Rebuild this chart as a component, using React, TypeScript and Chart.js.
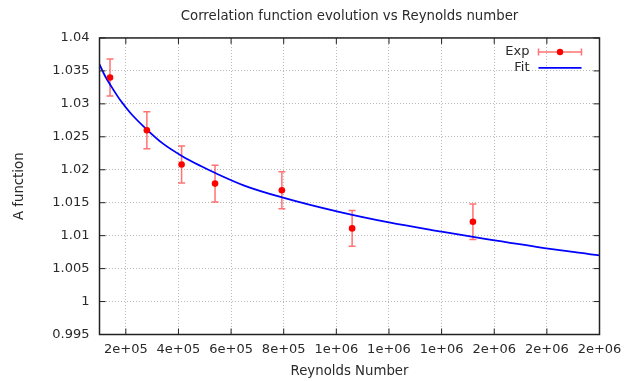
import { useEffect, useRef } from 'react';
import { Chart, registerables } from 'chart.js';

Chart.register(...registerables);

// Experimental data
const reynolds = [1.4e5, 2.8e5, 4.12e5, 5.39e5, 7.93e5, 1.06e6, 1.519e6];
const aValues = [1.034, 1.026, 1.0208, 1.0179, 1.0169, 1.0111, 1.0121];
const aErrors = [0.0028, 0.0028, 0.0028, 0.0028, 0.0028, 0.0027, 0.0027];

// Fit curve
const fitReynolds = [1.0e5, 1.2e5, 1.47e5, 1.8e5, 2.2e5, 2.8e5, 3.4e5, 4.13e5, 4.83e5, 5.4e5, 6.5e5, 7.94e5, 1.01e6, 1.2e6, 1.4e6, 1.52e6, 1.76e6, 2.0e6];
const fitValues = [1.036, 1.0343, 1.0325, 1.0305, 1.0285, 1.0261, 1.024, 1.0221, 1.0206, 1.0195, 1.0176, 1.0158, 1.0136, 1.012, 1.0106, 1.0098, 1.0083, 1.007];

// Ticks
const xTickValues = [2e5, 4e5, 6e5, 8e5, 1e6, 1.2e6, 1.4e6, 1.6e6, 1.8e6, 2e6];
const xTickLabels = ['2e+05', '4e+05', '6e+05', '8e+05', '1e+06', '1e+06', '1e+06', '2e+06', '2e+06', '2e+06'];
const yTickValues = [0.995, 1, 1.005, 1.01, 1.015, 1.02, 1.025, 1.03, 1.035, 1.04];
const yTickLabels = ['0.995', '1', '1.005', '1.01', '1.015', '1.02', '1.025', '1.03', '1.035', '1.04'];

const titleText = 'Correlation function evolution vs Reynolds number';
const xTitle = 'Reynolds Number';
const yTitle = 'A function';
const legendExp = 'Exp';
const legendFit = 'Fit';

const FONT = '"DejaVu Sans", "Liberation Sans", Arial, sans-serif';
const TEXT_COLOR = '#2a2a2a';
const ERR_COLOR = 'rgba(255, 40, 40, 0.65)';
const PT_COLOR = '#ff0000';
const FIT_COLOR = '#0000ff';
const FRAME_COLOR = '#222222';
const GRID_COLOR = '#b8b8b8';

const gnuplotPlugin = {
  id: 'gnuplotDecor',
  beforeDatasetsDraw(chart: any) {
    const { ctx, scales } = chart;
    const xs = scales.x;
    const ys = scales.y;
    ctx.save();
    ctx.strokeStyle = ERR_COLOR;
    ctx.lineWidth = 1.5;
    reynolds.forEach((r, i) => {
      const px = xs.getPixelForValue(r);
      const top = ys.getPixelForValue(aValues[i] + aErrors[i]);
      const bot = ys.getPixelForValue(aValues[i] - aErrors[i]);
      ctx.beginPath();
      ctx.moveTo(px, top);
      ctx.lineTo(px, bot);
      ctx.moveTo(px - 3.5, top);
      ctx.lineTo(px + 3.5, top);
      ctx.moveTo(px - 3.5, bot);
      ctx.lineTo(px + 3.5, bot);
      ctx.stroke();
    });
    ctx.restore();
  },
  afterDraw(chart: any) {
    const { ctx, chartArea, scales } = chart;
    const { left, right, top, bottom } = chartArea;
    const xs = scales.x;
    const ys = scales.y;
    ctx.save();
    ctx.strokeStyle = FRAME_COLOR;
    ctx.lineWidth = 1.5;
    ctx.strokeRect(left, top, right - left, bottom - top);
    const tl = 6;
    ctx.beginPath();
    xTickValues.forEach((v) => {
      const px = xs.getPixelForValue(v);
      ctx.moveTo(px, bottom);
      ctx.lineTo(px, bottom - tl);
      ctx.moveTo(px, top);
      ctx.lineTo(px, top + tl);
    });
    yTickValues.forEach((v) => {
      const py = ys.getPixelForValue(v);
      ctx.moveTo(left, py);
      ctx.lineTo(left + tl, py);
      ctx.moveTo(right, py);
      ctx.lineTo(right - tl, py);
    });
    ctx.lineWidth = 1;
    ctx.stroke();

    // legend
    const textRight = right - 70;
    const sx0 = right - 61;
    const sx1 = right - 18;
    const y1 = top + 14;
    const y2 = top + 30;
    ctx.font = `13px ${FONT}`;
    ctx.fillStyle = TEXT_COLOR;
    ctx.textAlign = 'right';
    ctx.textBaseline = 'middle';
    ctx.fillText(legendExp, textRight, y1);
    ctx.fillText(legendFit, textRight, y2);
    ctx.strokeStyle = ERR_COLOR;
    ctx.lineWidth = 1.5;
    ctx.beginPath();
    ctx.moveTo(sx0, y1);
    ctx.lineTo(sx1, y1);
    ctx.moveTo(sx0, y1 - 3.5);
    ctx.lineTo(sx0, y1 + 3.5);
    ctx.moveTo(sx1, y1 - 3.5);
    ctx.lineTo(sx1, y1 + 3.5);
    ctx.stroke();
    ctx.fillStyle = PT_COLOR;
    ctx.beginPath();
    ctx.arc((sx0 + sx1) / 2, y1, 3.2, 0, Math.PI * 2);
    ctx.fill();
    ctx.strokeStyle = FIT_COLOR;
    ctx.lineWidth = 1.8;
    ctx.beginPath();
    ctx.moveTo(sx0, y2);
    ctx.lineTo(sx1, y2);
    ctx.stroke();
    ctx.restore();
  },
};

export default function App() {
  const canvasRef = useRef<HTMLCanvasElement | null>(null);

  useEffect(() => {
    if (!canvasRef.current) return;
    const chart = new Chart(canvasRef.current, {
      type: 'scatter',
      data: {
        datasets: [
          {
            label: legendExp,
            data: reynolds.map((r, i) => ({ x: r, y: aValues[i] })),
            backgroundColor: PT_COLOR,
            borderColor: PT_COLOR,
            pointRadius: 3.3,
            pointBorderWidth: 0,
            showLine: false,
          },
          {
            label: legendFit,
            data: fitReynolds.map((r, i) => ({ x: r, y: fitValues[i] })),
            borderColor: FIT_COLOR,
            backgroundColor: FIT_COLOR,
            borderWidth: 1.8,
            pointRadius: 0,
            showLine: true,
            cubicInterpolationMode: 'monotone',
          } as any,
        ],
      },
      options: {
        responsive: false,
        animation: false,
        layout: { padding: { left: 0, right: 35.5, top: 0, bottom: 0 } },
        plugins: {
          legend: { display: false },
          tooltip: { enabled: false },
          title: {
            display: true,
            text: titleText,
            color: TEXT_COLOR,
            font: { family: FONT, size: 13.3, weight: 'normal' },
            padding: { top: 8.5, bottom: 13.5 },
            fullSize: false,
          },
        },
        scales: {
          x: {
            type: 'linear',
            min: 1e5,
            max: 2e6,
            afterBuildTicks: (scale: any) => {
              scale.ticks = xTickValues.map((v) => ({ value: v }));
            },
            afterFit: (scale: any) => {
              scale.height = 46.5;
            },
            ticks: {
              autoSkip: false,
              maxRotation: 0,
              padding: 7,
              color: TEXT_COLOR,
              font: { family: FONT, size: 13 },
              callback: (_v: any, i: number) => xTickLabels[i],
            },
            grid: { color: GRID_COLOR, lineWidth: 1, drawTicks: false },
            border: { display: false, dash: [1, 2] },
            title: {
              display: true,
              text: xTitle,
              color: TEXT_COLOR,
              font: { family: FONT, size: 13.3 },
              padding: { top: 0, bottom: 1.5 },
            },
          },
          y: {
            type: 'linear',
            min: 0.995,
            max: 1.04,
            afterBuildTicks: (scale: any) => {
              scale.ticks = yTickValues.map((v) => ({ value: v }));
            },
            afterFit: (scale: any) => {
              scale.width = 99.5;
            },
            ticks: {
              autoSkip: false,
              padding: 10,
              color: TEXT_COLOR,
              font: { family: FONT, size: 13 },
              callback: (_v: any, i: number) => yTickLabels[i],
            },
            grid: { color: GRID_COLOR, lineWidth: 1, drawTicks: false },
            border: { display: false, dash: [1, 2] },
            title: {
              display: true,
              text: yTitle,
              color: TEXT_COLOR,
              font: { family: FONT, size: 13.3 },
              padding: { top: 12, bottom: 0 },
            },
          },
        },
      } as any,
      plugins: [gnuplotPlugin],
    });
    return () => chart.destroy();
  }, []);

  return (
    <div style={{ position: 'fixed', left: 0, top: 0, width: 635, height: 381, background: '#ffffff' }}>
      <canvas ref={canvasRef} width={635} height={381} style={{ width: 635, height: 381 }} />
    </div>
  );
}
